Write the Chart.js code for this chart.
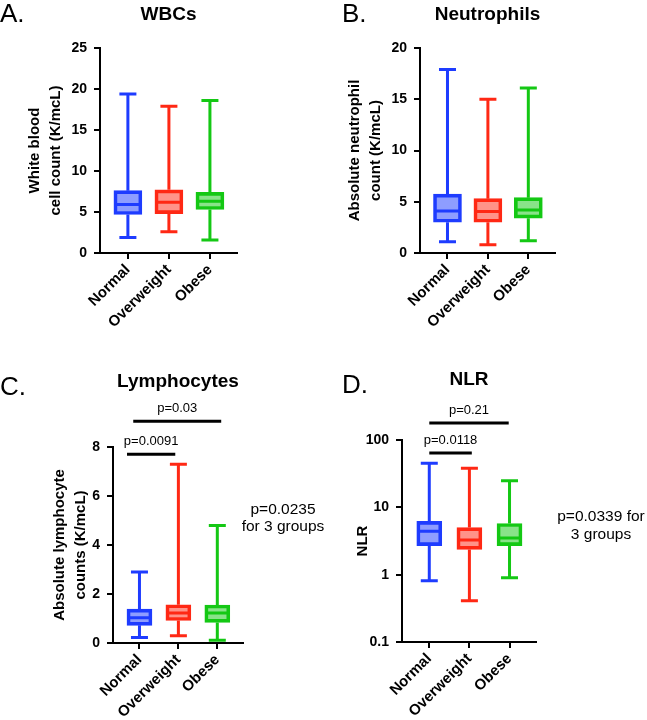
<!DOCTYPE html>
<html>
<head>
<meta charset="utf-8">
<script src="https://cdn.jsdelivr.net/npm/chart.js@4.4.0/dist/chart.umd.min.js"></script>
<style>
  body{margin:0;background:#fff;font-family:Arial,"Liberation Sans",sans-serif;color:#000}
  #wrap{position:relative;width:647px;height:720px;overflow:hidden}
  canvas{position:absolute}
  .tag{position:absolute;font-size:26px;line-height:1;white-space:nowrap}
  .note{position:absolute;width:110px;text-align:center;font-size:15.5px;white-space:nowrap}
</style>
</head>
<body>
<div id="wrap">
  <canvas id="cA" width="323" height="340" style="left:0;top:0"></canvas>
  <canvas id="cB" width="324" height="340" style="left:323px;top:0"></canvas>
  <canvas id="cC" width="323" height="360" style="left:0;top:360px"></canvas>
  <canvas id="cD" width="324" height="360" style="left:323px;top:360px"></canvas>
  <div class="tag" style="left:0;top:0">A.</div>
  <div class="tag" style="left:342px;top:0">B.</div>
  <div class="tag" style="left:0;top:373px">C.</div>
  <div class="tag" style="left:342px;top:371px">D.</div>
  <div class="note" style="left:228px;top:500px;line-height:17px">p=0.0235<br>for 3 groups</div>
  <div class="note" style="left:546px;top:507px;line-height:18px">p=0.0339 for<br>3 groups</div>
</div>
<script>
const groups = ['Normal', 'Overweight', 'Obese'];
const lineColors = ['#1e3cff', '#ff2814', '#14c814'];
const fillColors = ['rgba(30,60,255,0.5)', 'rgba(255,40,20,0.5)', 'rgba(20,200,20,0.5)'];

// A. WBCs
const wbcMin = [1.9, 2.6, 1.6];
const wbcQ1  = [4.7, 4.8, 5.3];
const wbcMed = [5.9, 6.2, 6.3];
const wbcQ3  = [7.6, 7.7, 7.4];
const wbcMax = [19.4, 17.9, 18.6];

// B. Neutrophils
const neuMin = [1.1, 0.8, 1.2];
const neuQ1  = [3.0, 3.0, 3.4];
const neuMed = [4.1, 4.05, 4.2];
const neuQ3  = [5.75, 5.3, 5.4];
const neuMax = [17.9, 15.0, 16.1];

// C. Lymphocytes
const lymMin = [0.22, 0.3, 0.11];
const lymQ1  = [0.72, 0.92, 0.84];
const lymMed = [1.03, 1.22, 1.22];
const lymQ3  = [1.38, 1.56, 1.55];
const lymMax = [2.9, 7.3, 4.8];
const lymSigFrom = [-0.32, -0.16];
const lymSigTo   = [0.92, 2.1];
const lymSigAt   = [7.7, 9.05];
const lymSigText = ['p=0.0091', 'p=0.03'];

// D. NLR (log axis)
const nlrMin = [0.81, 0.41, 0.9];
const nlrQ1  = [2.7, 2.37, 2.7];
const nlrMed = [4.4, 3.26, 3.5];
const nlrQ3  = [6.2, 5.0, 5.75];
const nlrMax = [45, 38, 24.8];
const nlrTicks = [0.1, 1, 10, 100];
const nlrSigFrom = [0, 0];
const nlrSigTo   = [1.06, 1.98];
const nlrSigAt   = [64, 179];
const nlrSigText = ['p=0.0118', 'p=0.21'];

Chart.defaults.font.family = 'Arial, "Liberation Sans", sans-serif';
Chart.defaults.color = '#000';

function whiskers(lo, mid, hi) {
  return {
    id: 'whiskers',
    afterDatasetsDraw(chart) {
      const ctx = chart.ctx, y = chart.scales.y;
      chart.getDatasetMeta(0).data.forEach((bar, i) => {
        const x = bar.x, half = bar.width / 2, cap = 8.5;
        const top = Math.min(bar.y, bar.base), bot = Math.max(bar.y, bar.base);
        const yHi = y.getPixelForValue(hi[i]), yLo = y.getPixelForValue(lo[i]);
        const yMid = y.getPixelForValue(mid[i]);
        ctx.save();
        ctx.strokeStyle = lineColors[i];
        ctx.lineWidth = 3;
        ctx.beginPath();
        ctx.moveTo(x, yHi); ctx.lineTo(x, top);
        ctx.moveTo(x, bot); ctx.lineTo(x, yLo);
        ctx.moveTo(x - cap, yHi); ctx.lineTo(x + cap, yHi);
        ctx.moveTo(x - cap, yLo); ctx.lineTo(x + cap, yLo);
        ctx.moveTo(x - half + 2, yMid); ctx.lineTo(x + half - 2, yMid);
        ctx.stroke();
        ctx.restore();
      });
    }
  };
}

function sigBars(from, to, at, text) {
  return {
    id: 'sigBars',
    afterDraw(chart) {
      const {ctx, scales: {x, y}} = chart;
      ctx.save();
      ctx.strokeStyle = '#000';
      ctx.fillStyle = '#000';
      ctx.lineWidth = 3;
      ctx.font = '13px Arial, "Liberation Sans", sans-serif';
      ctx.textAlign = 'center';
      ctx.textBaseline = 'middle';
      at.forEach((v, i) => {
        const yy = y.getPixelForValue(v);
        const x0 = x.getPixelForValue(from[i]), x1 = x.getPixelForValue(to[i]);
        ctx.beginPath();
        ctx.moveTo(x0, yy); ctx.lineTo(x1, yy);
        ctx.stroke();
        ctx.fillText(text[i], (x0 + x1) / 2, yy - 13);
      });
      ctx.restore();
    }
  };
}

function panel(id, c) {
  const cv = document.getElementById(id);
  const W = cv.width, H = cv.height;
  const yScale = {
    type: c.log ? 'logarithmic' : 'linear',
    min: c.min, max: c.max,
    ticks: {font: {size: 14, weight: 'bold'}, padding: 7, color: '#000'},
    grid: {drawOnChartArea: false, tickLength: 6, color: '#000', lineWidth: 2},
    border: {color: '#000', width: 2},
    title: {display: true, text: c.yTitle, color: '#000',
      font: {size: 15, weight: 'bold', lineHeight: 1.4}, padding: {top: c.yTitlePad, bottom: 0}},
    afterFit: s => { s.width = c.left; }
  };
  if (c.log) {
    yScale.afterBuildTicks = s => { s.ticks = nlrTicks.map(v => ({value: v})); };
    yScale.ticks.callback = v => String(v);
  } else {
    yScale.ticks.stepSize = c.step;
  }
  new Chart(cv, {
    type: 'bar',
    data: {
      datasets: [{
        data: groups.map((g, i) => ({x: i, y: [c.q1[i], c.q3[i]]})),
        backgroundColor: fillColors,
        borderColor: lineColors,
        borderWidth: 3,
        borderSkipped: false,
        barThickness: c.boxW
      }]
    },
    options: {
      responsive: false,
      animation: false,
      layout: {padding: {left: 0, top: 0, bottom: 0, right: W - c.right}},
      plugins: {
        legend: {display: false},
        tooltip: {enabled: false},
        title: {display: true, text: c.title, fullSize: false, color: '#000',
          font: {size: 19, weight: 'bold', lineHeight: 1.2}, padding: {top: c.tPad - 0.6, bottom: c.top - c.tPad + 0.6 - 22.8}}
      },
      scales: {
        x: {
          type: 'linear', min: -0.68, max: 2.66, offset: false,
          afterBuildTicks: s => { s.ticks = groups.map((g, i) => ({value: i})); },
          ticks: {callback: v => groups[v], minRotation: 45, maxRotation: 45, autoSkip: false,
            font: {size: 15, weight: 'bold'}, padding: 2, color: '#000'},
          grid: {drawOnChartArea: false, offset: false, tickLength: 6, color: '#000', lineWidth: 2},
          border: {color: '#000', width: 2},
          afterFit: s => { s.height = H - c.bottom; }
        },
        y: yScale
      }
    },
    plugins: [whiskers(c.lo, c.mid, c.hi), sigBars(c.sFrom || [], c.sTo || [], c.sAt || [], c.sText || [])]
  });
}

panel('cA', {title: 'WBCs', yTitle: ['White blood', 'cell count (K/mcL)'], yTitlePad: 24.5,
  min: 0, max: 25, step: 5, left: 100, right: 237, top: 48, bottom: 253, tPad: 4, boxW: 28,
  lo: wbcMin, q1: wbcQ1, mid: wbcMed, q3: wbcQ3, hi: wbcMax});

panel('cB', {title: 'Neutrophils', yTitle: ['Absolute neutrophil', 'count (K/mcL)'], yTitlePad: 21.5,
  min: 0, max: 20, step: 5, left: 97, right: 232, top: 48, bottom: 253, tPad: 4, boxW: 28,
  lo: neuMin, q1: neuQ1, mid: neuMed, q3: neuQ3, hi: neuMax});

panel('cC', {title: 'Lymphocytes', yTitle: ['Absolute lymphocyte', 'counts (K/mcL)'], yTitlePad: 49.5,
  min: 0, max: 8, step: 2, left: 113, right: 243, top: 87, bottom: 283, tPad: 11.2, boxW: 25,
  lo: lymMin, q1: lymQ1, mid: lymMed, q3: lymQ3, hi: lymMax,
  sFrom: lymSigFrom, sTo: lymSigTo, sAt: lymSigAt, sText: lymSigText});

panel('cD', {title: 'NLR', yTitle: 'NLR', yTitlePad: 29.5, log: true,
  min: 0.1, max: 100, left: 79, right: 213, top: 80, bottom: 282, tPad: 9.2, boxW: 25,
  lo: nlrMin, q1: nlrQ1, mid: nlrMed, q3: nlrQ3, hi: nlrMax,
  sFrom: nlrSigFrom, sTo: nlrSigTo, sAt: nlrSigAt, sText: nlrSigText});
</script>
</body>
</html>
